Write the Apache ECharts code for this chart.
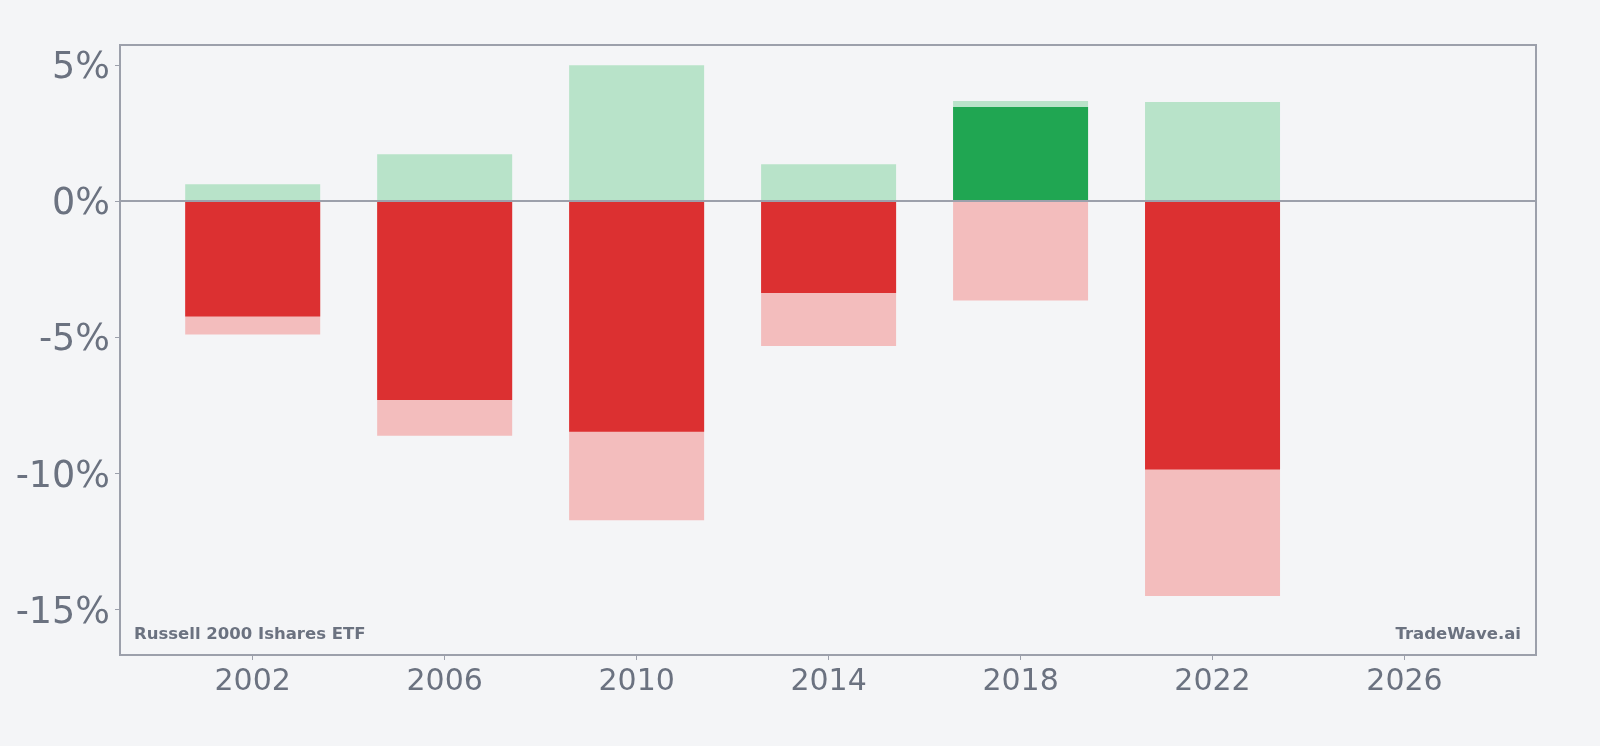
<!DOCTYPE html>
<html>
<head>
<meta charset="utf-8">
<script src="https://cdn.jsdelivr.net/npm/echarts@6/dist/echarts.min.js"></script>
<style>
  html, body { margin: 0; padding: 0; background: #f4f5f7; }
  #chartArea { width: 1600px; height: 746px; }
</style>
</head>
<body>
<div id="chartArea"></div>
<script>
// data (percent)
var years = [2002, 2006, 2010, 2014, 2018, 2022];
var maxGain = [0.62, 1.72, 4.99, 1.35, 3.68, 3.64];
var maxLoss = [-4.91, -8.63, -11.74, -5.33, -3.66, -14.52];
var yearReturn = [-4.25, -7.32, -8.48, -3.38, 3.46, -9.87];
var xTicks = [2002, 2006, 2010, 2014, 2018, 2022, 2026];
var yTicks = [-15, -10, -5, 0, 5];

var textColor = '#6b7280';
var frameColor = '#9ca0ab';

var dom = document.getElementById('chartArea');
var myChart = echarts.init(dom, null, {renderer: 'canvas'});

function pairs(vals) {
    var out = [];
    for (var i = 0; i < years.length; i++) {
        out.push([years[i], vals[i]]);
    }
    return out;
}

// dark bar: green when positive, red when negative
var returnData = [];
for (var i = 0; i < years.length; i++) {
    returnData.push({
        value: [years[i], yearReturn[i]],
        itemStyle: {color: yearReturn[i] >= 0 ? '#20a652' : '#dc3031'}
    });
}

var option = {
    backgroundColor: '#f4f5f7',
    animation: false,
    grid: {
        left: 120,
        right: 64,
        top: 45,
        bottom: 91,
        show: true,
        borderColor: frameColor,
        borderWidth: 2,
        backgroundColor: 'transparent'
    },
    xAxis: {
        type: 'value',
        min: 1999.235,
        max: 2028.74,
        splitLine: {show: false},
        axisLine: {show: false, onZero: false},
        axisTick: {show: true, length: 5, customValues: xTicks, lineStyle: {color: frameColor}},
        axisLabel: {
            customValues: xTicks,
            color: textColor,
            fontSize: 30,
            fontFamily: 'DejaVu Sans',
            margin: 12,
            formatter: function (v) { return String(v); }
        }
    },
    yAxis: {
        type: 'value',
        min: -16.69,
        max: 5.735,
        splitLine: {show: false},
        axisLine: {show: false, onZero: false},
        axisTick: {show: true, length: 5, customValues: yTicks, lineStyle: {color: frameColor}},
        axisLabel: {
            customValues: yTicks,
            color: textColor,
            fontSize: 36.5,
            fontFamily: 'DejaVu Sans',
            margin: 10,
            verticalAlign: 'top',
            lineHeight: 8,
            formatter: function (v) { return v + '%'; }
        }
    },
    graphic: [
        {
            type: 'text',
            left: 134,
            top: 626,
            style: {
                text: 'Russell 2000 Ishares ETF',
                fill: textColor,
                fontSize: 16.5,
                fontWeight: 'bold',
                fontFamily: 'DejaVu Sans'
            }
        },
        {
            type: 'text',
            right: 79,
            top: 626,
            style: {
                text: 'TradeWave.ai',
                fill: textColor,
                fontSize: 16.5,
                fontWeight: 'bold',
                fontFamily: 'DejaVu Sans'
            }
        }
    ],
    series: [
        {
            name: 'max gain',
            type: 'bar',
            barWidth: 135,
            barGap: '-100%',
            data: pairs(maxGain),
            itemStyle: {color: '#b8e3c9'}
        },
        {
            name: 'max loss',
            type: 'bar',
            barWidth: 135,
            barGap: '-100%',
            data: pairs(maxLoss),
            itemStyle: {color: '#f3bdbd'}
        },
        {
            name: 'return',
            type: 'bar',
            barWidth: 135,
            barGap: '-100%',
            data: returnData,
            markLine: {
                silent: true,
                symbol: 'none',
                label: {show: false},
                lineStyle: {color: frameColor, width: 2, type: 'solid'},
                data: [{yAxis: 0}]
            }
        }
    ]
};

myChart.setOption(option, true);
</script>
</body>
</html>
